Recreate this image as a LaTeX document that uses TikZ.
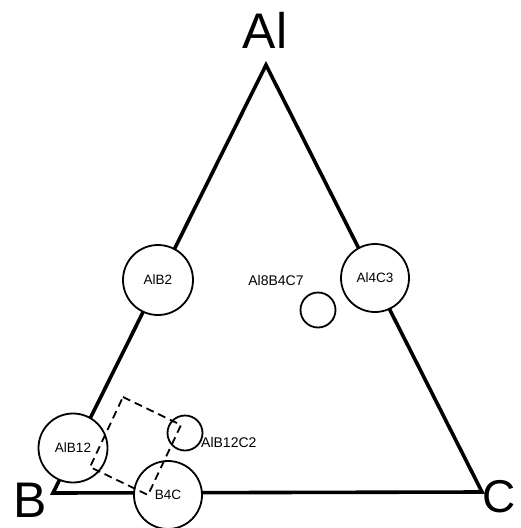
\documentclass[tikz,border=0pt]{standalone}
\usepackage{fontspec}
\setmainfont{Liberation Sans}
\begin{document}
\begin{tikzpicture}[x=1pt,y=-1pt,
  phase/.style={circle,draw,line width=1.8pt,fill=white,inner sep=0pt,font=\fontsize{13.5}{14}\selectfont},
  corner/.style={font=\fontsize{50}{50}\selectfont,inner sep=0pt},
  lbl/.style={font=\fontsize{14}{15}\selectfont,inner sep=0pt}]
\useasboundingbox (0,0) rectangle (520,528);
\coordinate (A) at (266,65);
\coordinate (Bv) at (53,493);
\coordinate (Cv) at (482,492);
\draw[line width=3.6pt,line join=miter] (A) -- (Bv) -- (Cv) -- cycle;
\node[corner,anchor=base] (lAl) at (265,48) {Al};
\node[corner,anchor=base west] (lB) at (13,517) {B};
\node[corner,anchor=base west,font=\fontsize{46}{46}\selectfont] (lC) at (482,512) {C};
\node[phase,minimum size=70pt] (alb2) at (158,280) {AlB2};
\node[phase,minimum size=68pt] (al4c3) at (375,278) {Al4C3};
\node[lbl] (al8) at (276,280) {Al8B4C7};
\node[phase,minimum size=35pt] (al8c) at (318,310) {};
\node[phase,minimum size=69pt] (alb12) at (73,448) {AlB12};
\node[phase,minimum size=35pt] (alb12c2) at (185,433) {};
\node[lbl,anchor=west] (alb12c2l) at (201,442) {AlB12C2};
\node[phase,minimum size=68pt] (b4c) at (168,495) {B4C};
\coordinate (d1) at (123,397);
\coordinate (d2) at (181,425);
\coordinate (d3) at (148,495);
\coordinate (d4) at (90,467);
\draw[line width=1.8pt,dash pattern=on 8pt off 5pt] (d1) -- (d2) -- (d3) -- (d4) -- cycle;
\end{tikzpicture}
\end{document}
